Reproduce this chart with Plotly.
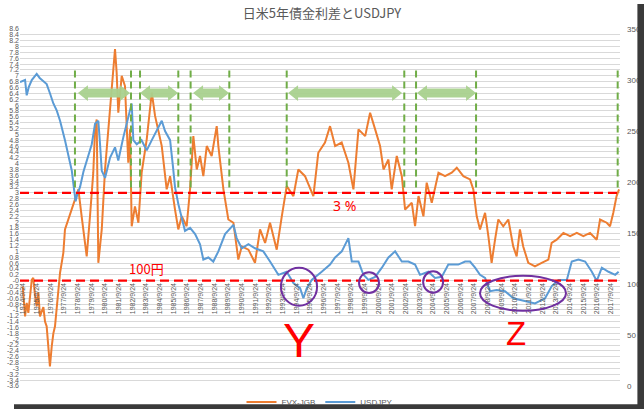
import plotly.graph_objects as go

# ---------------- data (decimal years) ----------------
fvx_x = [1974.71, 1974.88, 1975.00, 1975.12, 1975.37, 1975.48, 1975.61, 1975.73, 1975.85, 1975.97,
         1976.22, 1976.34, 1976.46, 1976.58, 1976.70, 1976.83, 1976.95, 1977.07, 1977.19, 1977.31,
         1977.44, 1977.56, 1977.68, 1977.80, 1978.05, 1978.29, 1978.53, 1978.78, 1979.02, 1979.27,
         1979.39, 1979.63, 1979.87, 1980.00, 1980.12, 1980.24, 1980.49, 1980.73, 1980.97, 1981.22,
         1981.46, 1981.58, 1981.70, 1981.95, 1982.19, 1982.43, 1982.56, 1982.68, 1982.92, 1983.17,
         1983.41, 1983.78, 1984.15, 1984.39, 1984.63, 1984.88, 1985.24, 1985.49, 1985.85, 1986.09,
         1986.34, 1986.70, 1986.95, 1987.19, 1987.44, 1987.68, 1987.92, 1988.17, 1988.53, 1988.90,
         1989.02, 1989.39, 1989.75, 1990.12, 1990.48, 1990.73, 1991.22, 1991.70, 1992.07, 1992.44,
         1992.80, 1993.29, 1993.66, 1994.02, 1994.51, 1994.87, 1995.36, 1995.97, 1996.33, 1996.82,
         1997.19, 1997.56, 1998.04, 1998.53, 1998.90, 1999.27, 1999.76, 2000.12, 2000.49, 2000.85,
         2001.10, 2001.46, 2001.70, 2002.07, 2002.44, 2002.68, 2003.17, 2003.41, 2003.66, 2004.02,
         2004.26, 2004.63, 2005.12, 2005.60, 2006.09, 2006.46, 2006.94, 2007.43, 2007.67, 2007.92,
         2008.16, 2008.53, 2008.77, 2009.01, 2009.26, 2009.50, 2009.86, 2010.23, 2010.59, 2010.84,
         2011.08, 2011.32, 2011.69, 2012.18, 2012.67, 2013.16, 2013.40, 2013.77, 2014.26, 2014.75,
         2015.24, 2015.72, 2016.21, 2016.70, 2016.94, 2017.43, 2017.67, 2017.91, 2018.15, 2018.33]
fvx_y = [-0.20, -1.22, -0.76, -1.10, 0.03, 0.10, -0.50, -0.88, -0.40, -1.22,
         -0.90, -1.40, -1.56, -2.30, -2.93, -2.25, -1.80, -1.56, -0.90, -0.20,
         0.27, 0.61, 0.95, 1.75, 2.09, 2.43, 2.77, 3.12, 2.20, 1.29,
         0.83, 2.20, 3.69, 5.17, 5.51, 0.61, 1.75, 3.80, 5.17, 6.31,
         7.91, 7.11, 5.74, 7.00, 6.65, 4.03, 5.17, 1.86, 2.54, 1.98,
         3.69, 4.83, 6.43, 5.63, 5.17, 4.60, 3.12, 3.57, 2.43, 1.75,
         2.20, 1.86, 3.12, 4.94, 3.80, 4.26, 3.57, 4.60, 4.26, 5.28,
         4.60, 3.12, 2.09, 1.98, 0.72, 1.17, 1.06, 0.61, 1.75, 1.29,
         1.98, 1.06, 2.20, 3.23, 2.89, 3.80, 3.57, 2.89, 4.37, 4.72,
         5.28, 4.60, 4.72, 4.03, 3.12, 5.17, 4.94, 5.74, 5.17, 4.60,
         3.80, 4.14, 3.12, 4.26, 3.57, 2.43, 2.66, 1.86, 2.89, 2.20,
         3.35, 2.66, 3.69, 3.57, 3.69, 3.86, 3.57, 3.46, 3.12, 2.20,
         1.75, 2.32, 1.52, 0.61, 1.40, 2.09, 1.86, 2.09, 1.17, 0.83,
         1.75, 1.17, 0.61, 0.49, 0.61, 0.72, 1.29, 1.40, 1.63, 1.52,
         1.63, 1.52, 1.63, 1.40, 2.09, 1.98, 1.86, 2.32, 2.89, 3.12]

usd_x = [1974.51, 1974.88, 1975.00, 1975.15, 1975.37, 1975.73, 1975.95, 1976.10, 1976.46, 1976.70,
         1976.95, 1977.20, 1977.44, 1977.80, 1978.05, 1978.30, 1978.48, 1978.58, 1978.70, 1978.90,
         1979.15, 1979.39, 1979.76, 1980.00, 1980.24, 1980.35, 1980.49, 1980.73, 1981.10, 1981.46,
         1981.70, 1982.07, 1982.43, 1982.68, 1982.80, 1983.05, 1983.40, 1983.78, 1984.15, 1984.40,
         1984.88, 1985.12, 1985.49, 1985.70, 1985.85, 1986.10, 1986.34, 1986.58, 1986.95, 1987.32,
         1987.68, 1987.92, 1988.29, 1988.65, 1989.02, 1989.51, 1990.12, 1990.36, 1990.73, 1991.22,
         1991.70, 1992.31, 1992.80, 1993.41, 1994.02, 1994.51, 1995.00, 1995.24, 1995.49, 1995.85,
         1996.58, 1997.19, 1997.56, 1998.05, 1998.53, 1998.78, 1999.27, 1999.63, 2000.00, 2000.49,
         2000.98, 2001.46, 2001.95, 2002.44, 2002.92, 2003.41, 2003.77, 2004.38, 2004.87, 2005.36,
         2005.84, 2006.57, 2007.07, 2007.43, 2007.80, 2008.16, 2008.53, 2008.89, 2009.38, 2009.99,
         2010.60, 2011.45, 2012.18, 2012.92, 2013.41, 2013.90, 2014.51, 2014.87, 2015.36, 2015.85,
         2016.34, 2016.70, 2017.07, 2017.56, 2018.05, 2018.30]
usd_y = [298, 300, 285, 293, 300, 306, 302, 300, 296, 287,
         277, 270, 260, 241, 227, 211, 191, 181, 188, 195,
         210, 221, 237, 257, 260, 240, 211, 204, 224, 234,
         221, 244, 264, 277, 241, 237, 241, 231, 241, 247,
         260, 250, 241, 215, 195, 178, 165, 152, 155, 149,
         139, 124, 126, 122, 132, 149, 158, 145, 135, 139,
         135, 132, 122, 109, 112, 101, 96, 86, 96, 104,
         112, 119, 126, 132, 145, 122, 122, 109, 104, 107,
         116, 126, 132, 122, 122, 119, 109, 112, 106, 107,
         119, 119, 122, 122, 116, 109, 106, 93, 94, 93,
         86, 83, 81, 86, 98, 104, 104, 122, 124, 122,
         112, 103, 116, 112, 109, 112]

x_years = list(range(1974, 2018))
x_tick_vals = [y + 0.73 for y in x_years]
x_tick_text = [f"{y}/9/24" for y in x_years]

left_ticks = [round(-3.6 + 0.2 * i, 1) for i in range(62)]
left_text = []
for v in left_ticks:
    s = f"{v:.1f}".rstrip("0").rstrip(".")
    if s == "0":
        s = "-0"
    left_text.append(s)
right_ticks = [0, 50, 100, 150, 200, 250, 300, 350]

green_lines = [1978.53, 1982.63, 1983.29, 1986.09, 1986.99, 1989.82, 1994.02,
               2002.62, 2003.48, 2007.87, 2018.23]
arrows = [(1978.75, 1982.56), (1983.29, 1986.07), (1987.17, 1989.80),
          (1994.12, 2002.46), (2003.55, 2007.87)]
circles = [(1993.6, 1996.24, -0.856, 0.445), (1999.31, 2000.77, -0.421, 0.284),
           (2004.0, 2005.46, -0.411, 0.318), (2008.16, 2014.45, -1.027, 0.171)]

ORANGE = "#ED7D31"
BLUE = "#5B9BD5"
GREY = "#595959"

fig = go.Figure()
fig.add_trace(go.Scatter(x=fvx_x, y=fvx_y, name="FVX-JGB", mode="lines",
                         line=dict(color=ORANGE, width=2), yaxis="y"))
fig.add_trace(go.Scatter(x=usd_x, y=usd_y, name="USDJPY", mode="lines",
                         line=dict(color=BLUE, width=2), yaxis="y2"))

shapes = []
# red dashed reference lines
for yv in (0, 3):
    shapes.append(dict(type="line", xref="paper", x0=0, x1=1, yref="y", y0=yv, y1=yv,
                       line=dict(color="#FF0000", width=2.2, dash="9px,5px")))
# green dashed verticals
for gx in green_lines:
    shapes.append(dict(type="line", xref="x", x0=gx, x1=gx, yref="y", y0=3.18, y1=7.29,
                       line=dict(color="#70AD47", width=2, dash="7px,4px")))
# green double arrows
yc, h1, h2, hl = 6.41, 0.154, 0.27, 0.73
for a0, a1 in arrows:
    p = (f"M {a0},{yc} L {a0+hl},{yc+h2} L {a0+hl},{yc+h1} L {a1-hl},{yc+h1} "
         f"L {a1-hl},{yc+h2} L {a1},{yc} L {a1-hl},{yc-h2} L {a1-hl},{yc-h1} "
         f"L {a0+hl},{yc-h1} L {a0+hl},{yc-h2} Z")
    shapes.append(dict(type="path", xref="x", yref="y", path=p,
                       fillcolor="#A9D18E", line=dict(width=0), opacity=0.95))
# purple circles
for cx0, cx1, cy0, cy1 in circles:
    shapes.append(dict(type="circle", xref="x", yref="y", x0=cx0, x1=cx1, y0=cy0, y1=cy1,
                       line=dict(color="#7030A0", width=2)))
# frame shadow
shapes.append(dict(type="rect", xref="paper", yref="paper", x0=1.029, x1=1.045, y0=-0.07,
                   y1=1.07, fillcolor="#3a3a3a", line=dict(width=0), layer="above"))
shapes.append(dict(type="rect", xref="paper", yref="paper", x0=-0.01, x1=1.045, y0=-0.07,
                   y1=-0.051, fillcolor="#3a3a3a", line=dict(width=0), layer="above"))

annotations = [
    dict(x=1983.73, y=0.41, xref="x", yref="y", text="100円", showarrow=False,
         font=dict(family="Noto Sans CJK JP", size=13, color="#FF0000")),
    dict(x=1998.28, y=2.57, xref="x", yref="y", text="3 %", showarrow=False,
         font=dict(family="Noto Sans", size=14, color="#FF0000")),
    dict(x=1994.92, y=-2.05, xref="x", yref="y", text="Y", showarrow=False,
         font=dict(family="Liberation Sans", size=48, color="#FF0000")),
    dict(x=2010.79, y=-1.82, xref="x", yref="y", text="Z", showarrow=False,
         font=dict(family="Liberation Sans", size=33, color="#FF0000")),
]

fig.update_layout(
    width=644, height=409,
    margin=dict(l=20, r=24, t=29, b=23, autoexpand=False),
    paper_bgcolor="white", plot_bgcolor="white",
    title=dict(text="日米5年債金利差とUSDJPY", x=0.5, xanchor="center",
               y=1 - 13 / 409, yanchor="middle", yref="container",
               font=dict(family="Noto Sans CJK JP", size=13, color=GREY)),
    xaxis=dict(range=[1974.51, 2018.40], anchor="free", position=(3.6 / 12.2),
               tickmode="array", tickvals=x_tick_vals, ticktext=x_tick_text,
               tickangle=-90, tickfont=dict(family="Liberation Sans", size=7, color=GREY),
               showgrid=False, zeroline=False, showline=False, ticks="", automargin=False),
    yaxis=dict(range=[-3.6, 8.6], tickmode="array", tickvals=left_ticks, ticktext=left_text,
               tickfont=dict(family="Liberation Sans", size=7, color=GREY),
               showgrid=True, gridcolor="#D9D9D9", gridwidth=1, zeroline=False,
               showline=False, ticks="", automargin=False),
    yaxis2=dict(range=[0, 350], overlaying="y", side="right", anchor="x",
                tickmode="array", tickvals=right_ticks,
                tickfont=dict(family="Liberation Sans", size=8, color=GREY),
                showgrid=False, zeroline=False, showline=False, ticks="",
                ticklabelstandoff=6, automargin=False),
    legend=dict(orientation="h", x=0.5, xanchor="center", y=-0.045, yanchor="middle",
                font=dict(family="Liberation Sans", size=8, color=GREY),
                bgcolor="rgba(0,0,0,0)", itemwidth=30),
    shapes=shapes, annotations=annotations,
)

fig.write_html("out.html")
